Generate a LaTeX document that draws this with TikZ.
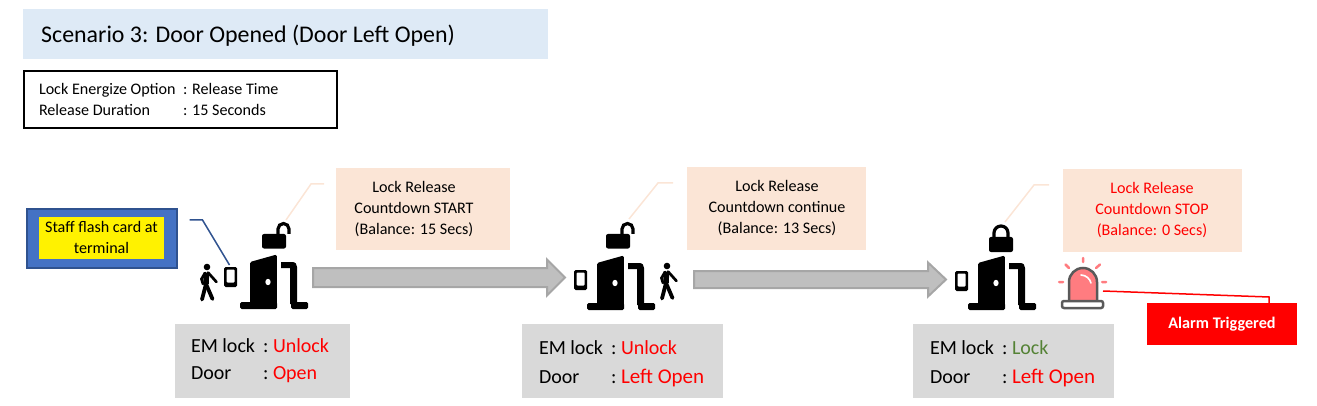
\documentclass[tikz,border=0pt]{standalone}
\usepackage{fontspec}
\setmainfont{Carlito}
\definecolor{titlebg}{HTML}{DEEAF6}
\definecolor{peach}{HTML}{FBE5D6}
\definecolor{greybox}{HTML}{D9D9D9}
\definecolor{staffblue}{HTML}{4472C4}
\definecolor{staffedge}{HTML}{2F528F}
\definecolor{arrowfill}{HTML}{BFBFBF}
\definecolor{arrowedge}{HTML}{A6A6A6}
\definecolor{alarmred}{HTML}{FF0000}
\definecolor{lockgreen}{HTML}{548235}
\definecolor{sirenpink}{HTML}{FF7C80}
\definecolor{sirenedge}{HTML}{595959}
\newcommand{\bigleft}{\fontsize{21}{24}\selectfont Left}
\tikzset{
  x=1pt,y=-1pt,
  plainbox/.style={rectangle,inner sep=0pt,outer sep=0pt},
  txt/.style={inner sep=0pt,outer sep=0pt,yshift=-0.8pt,font=\fontsize{16.1}{18}\selectfont},
  txtc/.style={txt,anchor=base},
  txtl/.style={txt,anchor=base west},
  state/.style={inner sep=0pt,outer sep=0pt,anchor=base west,font=\fontsize{20}{23}\selectfont},
  leaderpeach/.style={draw=peach,line width=1.5pt},
  bigarrow/.style={draw=arrowedge,fill=arrowfill,line width=2pt,line join=miter},
  door/.pic={
    \fill[black,rounded corners=1.5pt] (0,-7) rectangle (37,0);
    \fill[black,rounded corners=1.5pt] (10,-1) -- (10,-47) -- (36.8,-54.5) -- (36.8,-1) -- cycle;
    \fill[white] (28,-27) ellipse[x radius=2.6pt,y radius=3.2pt];
    \fill[black,rounded corners=1.5pt] (51,-7) rectangle (68,0);
    \fill[black] (50,-5) -- (50,-41) -- (41,-41) -- (41,-47) -- (52,-47) .. controls (55.5,-47) and (57,-45) .. (57,-42) -- (57,-5) -- cycle;
  },
  phone/.pic={
    \fill[black,rounded corners=1.5pt] (0,0) rectangle (13,20);
    \fill[white,rounded corners=1pt] (2.5,2.5) rectangle (10.5,15.5);
  },
  walker/.pic={
    \fill[black] (7,3) circle[radius=3.3pt];
    \draw[black,line width=5.5pt] (6.5,8.5) -- (6,20);
    \draw[black,line width=2.7pt,line cap=round] (5,9) -- (1.5,15) -- (3,20);
    \draw[black,line width=2.7pt,line cap=round] (8,8.5) -- (16.5,18);
    \draw[black,line width=3.8pt,line cap=round] (6,20) -- (2,35.5);
    \draw[black,line width=3.8pt,line cap=round] (6,20) -- (12.5,35);
  },
  openlock/.pic={
    \fill[black,rounded corners=2pt] (0,0) rectangle (24,14.5);
    \draw[black,line width=3.2pt] (16,1) -- (16,-5) arc[start angle=180,end angle=0,radius=5.5pt] -- ++(0,5);
  },
  closedlock/.pic={
    \fill[black,rounded corners=2pt] (0,0) rectangle (24,15);
    \draw[black,line width=3.2pt] (5,1) -- (5,-4) arc[start angle=180,end angle=0,radius=7pt] -- (19,1);
  },
}
\begin{document}
\begin{tikzpicture}
\useasboundingbox (0,0) rectangle (1317,406);
% header
\node[plainbox,fill=titlebg,minimum width=525pt,minimum height=50pt] (title) at (285.5,34) {};
\node[inner sep=0pt,anchor=base west,font=\fontsize{23.9}{26}\selectfont] (titletext) at (41,43) {Scenario 3: Door Opened (Door Left Open)};
\node[plainbox,draw=black,line width=2pt,minimum width=313pt,minimum height=57pt] (info) at (180,100) {};
\node[txtl] (infoa) at (39,94) {Lock Energize Option};
\node[txtl] (infob) at (183,94) {: Release Time};
\node[txtl] (infoc) at (39,115) {Release Duration};
\node[txtl] (infod) at (183,115) {: 15 Seconds};
% staff
\node[plainbox,fill=staffblue,draw=staffedge,line width=2pt,minimum width=150pt,minimum height=59pt] (staff) at (102,238.5) {};
\node[plainbox,fill=yellow,minimum width=125pt,minimum height=42pt] (staffy) at (101.5,238) {};
\node[txtc] (stafft1) at (101.5,232) {Staff flash card at};
\node[txtc] (stafft2) at (101.5,253) {terminal};
\coordinate (sa) at (189.5,220);
\coordinate (sb) at (202.5,220);
\coordinate (sc) at (229.5,265);
\draw[staffedge,line width=1.5pt] (sa) -- (sb) -- (sc);
% arrows
\draw[bigarrow] (313,268) -- (547,268) -- (547,259.5) -- (565,277.5) -- (547,295.5) -- (547,287) -- (313,287) -- cycle;
\draw[bigarrow] (694,271) -- (928,271) -- (928,262.5) -- (946,279.5) -- (928,296.5) -- (928,288) -- (694,288) -- cycle;
% callout boxes
\node[plainbox,fill=peach,minimum width=174pt,minimum height=82pt] (calla) at (423,209) {};
\node[txtc] at (414,192) {Lock Release};
\node[txtc] at (414,213) {Countdown START};
\node[txtc] at (414,234) {(Balance: 15 Secs)};
\node[plainbox,fill=peach,minimum width=179pt,minimum height=83pt] (callb) at (776.5,208.5) {};
\node[txtc] at (777,191) {Lock Release};
\node[txtc] at (777,212) {Countdown continue};
\node[txtc] at (777,233) {(Balance: 13 Secs)};
\node[plainbox,fill=peach,minimum width=179pt,minimum height=83pt] (callc) at (1152.5,210.5) {};
\node[txtc,text=alarmred] at (1152,193) {Lock Release};
\node[txtc,text=alarmred] at (1152,214) {Countdown STOP};
\node[txtc,text=alarmred] at (1152,235) {(Balance: 0 Secs)};
\coordinate (la1) at (324,184); \coordinate (la2) at (311,184); \coordinate (la3) at (286,220);
\coordinate (lb1) at (673,183); \coordinate (lb2) at (658,183); \coordinate (lb3) at (629,219);
\coordinate (lc1) at (1049,185); \coordinate (lc2) at (1034,185); \coordinate (lc3) at (1005,222);
\draw[leaderpeach] (la1) -- (la2) -- (la3);
\draw[leaderpeach] (lb1) -- (lb2) -- (lb3);
\draw[leaderpeach] (lc1) -- (lc2) -- (lc3);
% icons
\pic at (240,309) {door};
\pic at (587,310) {door};
\pic at (968,310) {door};
\pic at (262,234) {openlock};
\pic at (606,234) {openlock};
\pic at (989,237) {closedlock};
\pic at (224,267) {phone};
\pic at (574,270) {phone};
\pic at (955,271) {phone};
\pic at (200,264) {walker};
\pic at (660,263) {walker};
% siren
\draw[sirenedge,fill=sirenpink,line width=2.5pt] (1069,301) -- (1069,282) arc[start angle=180,end angle=0,radius=14pt] -- (1097,301);
\draw[sirenedge,fill=white,line width=2.5pt,rounded corners=2pt] (1062,301) rectangle (1103,308);
\draw[white,line width=1.6pt,line cap=round] (1081,275) .. controls (1086,275) and (1090,279) .. (1091,283);
\draw[sirenpink,line width=2.5pt,line cap=round]
  (1083,258) -- (1083,262)
  (1065.5,264.5) -- (1069,268)
  (1100,264.5) -- (1096,268)
  (1059,282) -- (1063,282)
  (1102,282) -- (1106,282);
% status boxes
\node[plainbox,fill=greybox,minimum width=175pt,minimum height=74pt] (statea) at (262.5,361) {};
\node[state] at (191,352) {EM lock};
\node[state] at (263,352) {:};
\node[state,text=alarmred] at (273,352) {Unlock};
\node[state] at (191,379) {Door};
\node[state] at (263,379) {:};
\node[state,text=alarmred] at (273,379) {Open};
\node[plainbox,fill=greybox,minimum width=201pt,minimum height=74pt] (stateb) at (622.5,361) {};
\node[state] at (539,354) {EM lock};
\node[state] at (611,354) {:};
\node[state,text=alarmred] at (621,354) {Unlock};
\node[state] at (539,383) {Door};
\node[state] at (611,383) {:};
\node[state,text=alarmred] at (621,383) {\bigleft\ Open};
\node[plainbox,fill=greybox,minimum width=201pt,minimum height=74pt] (statec) at (1013.5,361) {};
\node[state] at (930,354) {EM lock};
\node[state] at (1002,354) {:};
\node[state,text=lockgreen] at (1012,354) {Lock};
\node[state] at (930,383) {Door};
\node[state] at (1002,383) {:};
\node[state,text=alarmred] at (1012,383) {\bigleft\ Open};
% alarm
\node[plainbox,fill=alarmred,minimum width=150pt,minimum height=42pt] (alarm) at (1222,324) {};
\node[txtc,text=white,font=\fontsize{16.2}{18}\selectfont\bfseries] (alarmtext) at (1222,327.5) {Alarm Triggered};
\coordinate (aa) at (1103,291);
\coordinate (ab) at (1269,297);
\draw[alarmred,line width=1.5pt] (aa) -- (ab) -- (ab |- alarm.north);
\end{tikzpicture}
\end{document}
